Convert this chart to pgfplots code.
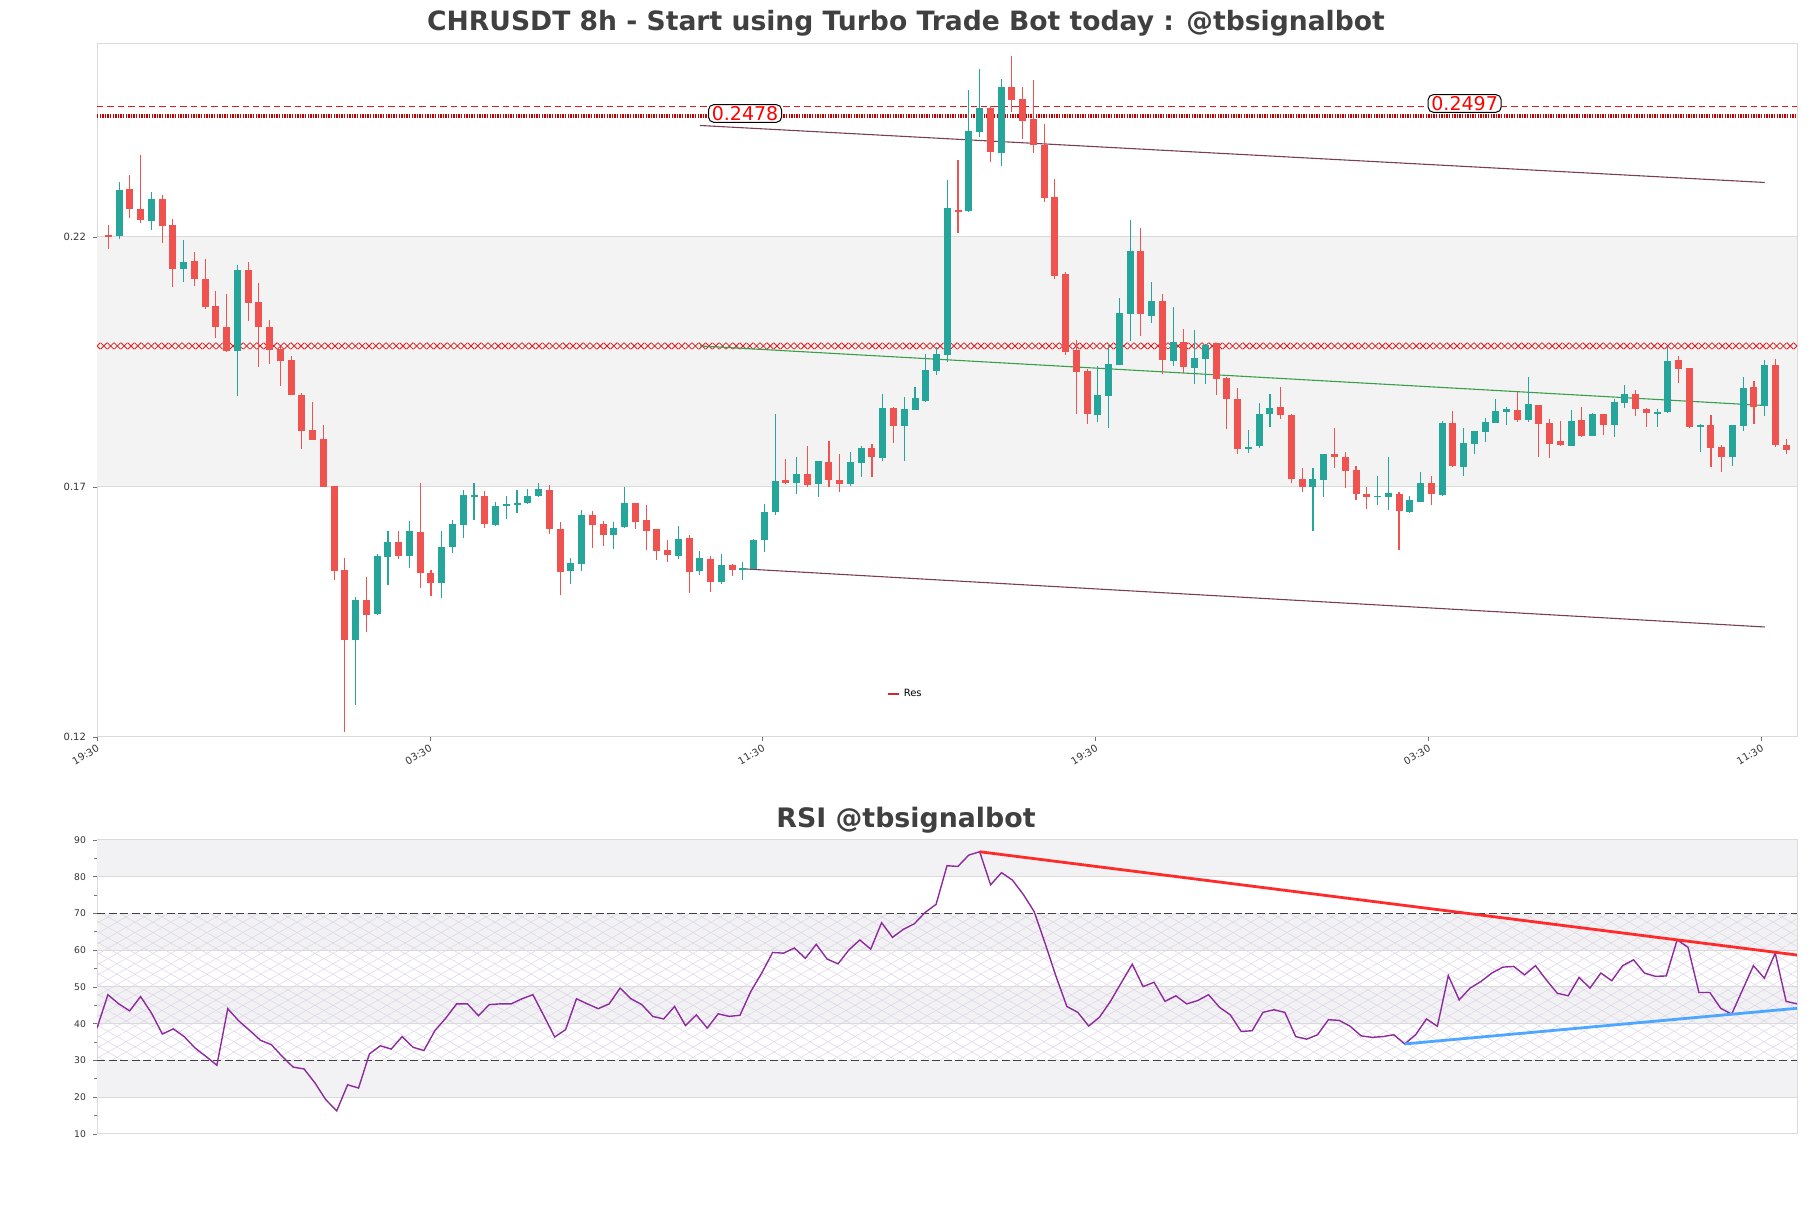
\documentclass[border=0pt]{standalone}
\usepackage{fontspec}
\setmainfont{DejaVu Sans}
\usepackage{pgfplots}
\pgfplotsset{compat=1.18}
\usepackage{pgfplotstable}
\usetikzlibrary{patterns.meta,decorations.markings}

\definecolor{upc}{HTML}{26A69A}
\definecolor{dnc}{HTML}{EF5350}
\definecolor{bandc}{HTML}{F3F3F3}
\definecolor{gridc}{HTML}{DADADA}
\definecolor{titlec}{HTML}{404040}
\definecolor{trendc}{HTML}{7B3F55}
\definecolor{greenl}{HTML}{3A9E4A}
\definecolor{rsic}{HTML}{8E2A9E}
\definecolor{resc}{HTML}{E31A1C}
\definecolor{resdot}{HTML}{C80000}
\definecolor{hatchc}{HTML}{DCD4E6}
\definecolor{rsiband}{HTML}{F2F2F4}
\definecolor{rsired}{HTML}{FF2A2A}
\definecolor{rsiblue}{HTML}{4DA6FF}

\newcommand\tickfont{\fontsize{5}{6}\selectfont}

\pgfplotstableread{
i o h l c
1 0.2201 0.2309 0.2196 0.2293
4 0.2232 0.2289 0.2214 0.2276
7 0.2135 0.2193 0.2109 0.2149
12 0.1972 0.2143 0.1882 0.2133
23 0.1394 0.1480 0.1264 0.1474
25 0.1445 0.1565 0.1444 0.1561
26 0.1559 0.1612 0.1503 0.1589
28 0.1562 0.1631 0.1537 0.1611
31 0.1507 0.1611 0.1478 0.1580
32 0.1580 0.1634 0.1568 0.1625
33 0.1624 0.1693 0.1597 0.1683
34 0.1681 0.1707 0.1634 0.1684
36 0.1624 0.1669 0.1621 0.1662
37 0.1662 0.1681 0.1635 0.1665
38 0.1665 0.1693 0.1647 0.1668
39 0.1667 0.1695 0.1666 0.1681
40 0.1681 0.1707 0.1679 0.1695
43 0.1532 0.1558 0.1506 0.1548
44 0.1546 0.1653 0.1532 0.1643
47 0.1603 0.1630 0.1576 0.1618
48 0.1620 0.1699 0.1619 0.1668
53 0.1561 0.1621 0.1556 0.1595
55 0.1532 0.1571 0.1523 0.1558
57 0.1510 0.1565 0.1506 0.1543
59 0.1533 0.1550 0.1514 0.1538
60 0.1536 0.1595 0.1536 0.1593
61 0.1594 0.1666 0.1570 0.1649
62 0.1650 0.1845 0.1644 0.1711
64 0.1708 0.1760 0.1685 0.1725
66 0.1705 0.1751 0.1679 0.1751
69 0.1705 0.1769 0.1701 0.1749
70 0.1748 0.1782 0.1720 0.1778
72 0.1758 0.1885 0.1752 0.1857
74 0.1822 0.1879 0.1752 0.1855
75 0.1853 0.1899 0.1853 0.1877
76 0.1872 0.1965 0.1870 0.1933
77 0.1932 0.1980 0.1923 0.1965
78 0.1964 0.2313 0.1950 0.2257
80 0.2252 0.2493 0.2250 0.2411
81 0.2410 0.2536 0.2400 0.2457
83 0.2367 0.2516 0.2342 0.2499
92 0.1844 0.1942 0.1830 0.1884
93 0.1882 0.1985 0.1818 0.1945
94 0.1944 0.2077 0.1944 0.2047
95 0.2045 0.2233 0.1992 0.2172
97 0.2042 0.2110 0.2027 0.2072
99 0.1952 0.2060 0.1942 0.1990
101 0.1938 0.2014 0.1906 0.1957
102 0.1955 0.1985 0.1906 0.1984
106 0.1776 0.1813 0.1768 0.1780
107 0.1782 0.1868 0.1777 0.1846
108 0.1846 0.1886 0.1820 0.1858
112 0.1700 0.1738 0.1612 0.1715
113 0.1714 0.1765 0.1680 0.1765
118 0.1680 0.1721 0.1663 0.1682
119 0.1680 0.1760 0.1654 0.1687
121 0.1650 0.1682 0.1647 0.1674
122 0.1670 0.1730 0.1670 0.1708
124 0.1684 0.1832 0.1681 0.1828
126 0.1740 0.1818 0.1722 0.1787
127 0.1785 0.1812 0.1765 0.1811
128 0.1810 0.1837 0.1790 0.1829
129 0.1828 0.1875 0.1828 0.1851
130 0.1850 0.1859 0.1823 0.1855
132 0.1833 0.1919 0.1830 0.1865
136 0.1782 0.1853 0.1782 0.1831
138 0.1801 0.1847 0.1801 0.1845
140 0.1823 0.1875 0.1800 0.1869
141 0.1868 0.1903 0.1858 0.1885
144 0.1847 0.1855 0.1820 0.1849
145 0.1850 0.1980 0.1847 0.1951
148 0.1819 0.1825 0.1770 0.1823
151 0.1760 0.1824 0.1742 0.1823
152 0.1822 0.1919 0.1812 0.1897
154 0.1861 0.1953 0.1841 0.1943
}\up

\pgfplotstableread{
i o h l c
0 0.2203 0.2224 0.2175 0.2200
2 0.2296 0.2323 0.2237 0.2256
3 0.2255 0.2363 0.2227 0.2234
5 0.2276 0.2283 0.2187 0.2222
6 0.2224 0.2236 0.2100 0.2135
8 0.2151 0.2169 0.2102 0.2116
9 0.2116 0.2155 0.2056 0.2059
10 0.2061 0.2091 0.1998 0.2020
11 0.2020 0.2086 0.1970 0.1972
13 0.2133 0.2149 0.2032 0.2068
14 0.2070 0.2107 0.1940 0.2019
15 0.2019 0.2034 0.1946 0.1974
16 0.1976 0.1980 0.1902 0.1952
17 0.1953 0.1962 0.1883 0.1884
18 0.1884 0.1888 0.1776 0.1811
19 0.1813 0.1869 0.1794 0.1794
20 0.1795 0.1823 0.1700 0.1700
21 0.1701 0.1701 0.1513 0.1532
22 0.1534 0.1557 0.1210 0.1394
24 0.1473 0.1519 0.1409 0.1444
27 0.1589 0.1611 0.1555 0.1562
29 0.1609 0.1708 0.1497 0.1528
30 0.1528 0.1534 0.1481 0.1507
35 0.1681 0.1691 0.1618 0.1625
41 0.1693 0.1703 0.1606 0.1615
42 0.1615 0.1630 0.1483 0.1530
45 0.1643 0.1652 0.1578 0.1624
46 0.1625 0.1632 0.1582 0.1603
49 0.1668 0.1668 0.1615 0.1630
50 0.1633 0.1663 0.1574 0.1612
51 0.1615 0.1615 0.1554 0.1572
52 0.1573 0.1593 0.1550 0.1563
54 0.1598 0.1603 0.1488 0.1530
56 0.1556 0.1561 0.1490 0.1510
58 0.1543 0.1545 0.1522 0.1534
63 0.1713 0.1755 0.1705 0.1708
65 0.1725 0.1782 0.1699 0.1703
67 0.1749 0.1791 0.1700 0.1713
68 0.1713 0.1765 0.1690 0.1705
71 0.1777 0.1785 0.1720 0.1760
73 0.1857 0.1859 0.1788 0.1822
79 0.2254 0.2353 0.2207 0.2250
82 0.2458 0.2462 0.2349 0.2369
84 0.2499 0.2561 0.2450 0.2474
85 0.2476 0.2499 0.2395 0.2432
86 0.2435 0.2513 0.2367 0.2383
87 0.2383 0.2425 0.2269 0.2277
88 0.2279 0.2315 0.2115 0.2122
89 0.2125 0.2130 0.1964 0.1970
90 0.1973 0.1993 0.1845 0.1930
91 0.1932 0.1935 0.1826 0.1845
96 0.2172 0.2217 0.2002 0.2045
98 0.2072 0.2085 0.1926 0.1953
100 0.1990 0.2015 0.1928 0.1940
103 0.1987 0.1988 0.1883 0.1916
104 0.1917 0.1920 0.1815 0.1876
105 0.1875 0.1898 0.1766 0.1775
109 0.1860 0.1900 0.1835 0.1843
110 0.1844 0.1846 0.1708 0.1716
111 0.1716 0.1737 0.1690 0.1700
114 0.1765 0.1817 0.1737 0.1760
115 0.1760 0.1770 0.1697 0.1732
116 0.1733 0.1742 0.1673 0.1685
117 0.1686 0.1700 0.1655 0.1680
120 0.1686 0.1690 0.1573 0.1652
123 0.1708 0.1721 0.1664 0.1686
125 0.1828 0.1852 0.1740 0.1741
131 0.1853 0.1890 0.1829 0.1833
133 0.1863 0.1863 0.1760 0.1825
134 0.1828 0.1835 0.1758 0.1785
135 0.1791 0.1831 0.1781 0.1783
137 0.1833 0.1860 0.1800 0.1801
139 0.1845 0.1845 0.1803 0.1823
142 0.1885 0.1893 0.1842 0.1855
143 0.1855 0.1858 0.1820 0.1847
146 0.1953 0.1961 0.1907 0.1935
147 0.1937 0.1937 0.1817 0.1819
149 0.1823 0.1843 0.1740 0.1778
150 0.1780 0.1783 0.1730 0.1760
153 0.1899 0.1912 0.1825 0.1860
155 0.1943 0.1955 0.1779 0.1783
156 0.1783 0.1795 0.1765 0.1773
}\dn

\pgfplotstableread{
k v
0 38.8
1 47.9
2 45.4
3 43.5
4 47.4
5 42.9
6 37.2
7 38.6
8 36.5
9 33.4
10 31.1
11 28.7
12 44.1
13 40.8
14 38.2
15 35.5
16 34.3
17 31.1
18 28.2
19 27.7
20 23.9
21 19.3
22 16.3
23 23.4
24 22.5
25 31.8
26 34.0
27 33.1
28 36.5
29 33.6
30 32.7
31 38.1
32 41.5
33 45.4
34 45.4
35 42.2
36 45.2
37 45.4
38 45.4
39 46.8
40 47.9
41 42.2
42 36.4
43 38.4
44 46.8
45 45.4
46 44.1
47 45.4
48 49.7
49 46.8
50 45.2
51 42.0
52 41.3
53 44.7
54 39.5
55 42.4
56 38.8
57 42.7
58 42.0
59 42.3
60 48.8
61 53.8
62 59.4
63 59.2
64 60.6
65 57.8
66 61.6
67 57.6
68 56.3
69 60.1
70 62.8
71 60.3
72 67.5
73 63.5
74 65.7
75 67.2
76 70.3
77 72.5
78 83.0
79 82.8
80 85.9
81 86.8
82 77.8
83 81.1
84 79.1
85 75.2
86 70.5
87 61.9
88 52.9
89 44.7
90 43.1
91 39.4
92 41.8
93 46.1
94 51.2
95 56.2
96 50.1
97 51.3
98 46.1
99 47.6
100 45.4
101 46.3
102 47.9
103 44.5
104 42.4
105 37.9
106 38.1
107 43.1
108 43.8
109 43.1
110 36.5
111 35.8
112 37.0
113 41.1
114 40.9
115 39.3
116 36.7
117 36.3
118 36.5
119 37.0
120 34.5
121 37.0
122 41.3
123 39.3
124 53.1
125 46.5
126 49.7
127 51.5
128 53.8
129 55.4
130 55.6
131 53.3
132 55.8
133 51.9
134 48.3
135 47.6
136 52.6
137 49.7
138 53.8
139 51.7
140 55.8
141 57.4
142 53.8
143 52.9
144 53.0
145 62.8
146 60.8
147 48.5
148 48.5
149 44.2
150 42.6
151 49.2
152 55.8
153 52.4
154 59.2
155 46.1
156 45.4
}\rsi

\begin{document}
\begin{tikzpicture}[x=1pt,y=1pt]
\useasboundingbox (0pt,0pt) rectangle (905.5pt,604pt);

\node[font=\bfseries\fontsize{13.3}{15}\selectfont, text=titlec] at (453pt,592.5pt) {CHRUSDT 8h - Start using Turbo Trade Bot today : @tbsignalbot};
\node[font=\bfseries\fontsize{13.4}{15}\selectfont, text=titlec] at (453pt,194pt) {RSI @tbsignalbot};

% ---------- main price axis ----------
\begin{axis}[
  at={(48.5pt,235.5pt)}, anchor=south west, scale only axis,
  width=850pt, height=346.5pt,
  xmin=-1.05, xmax=157, ymin=0.12, ymax=0.2586,
  axis line style={draw=gridc, line width=0.5pt},
  ytick={0.12,0.17,0.22}, yticklabels={0.12,0.17,0.22},
  xtick={-1.05,29.9,60.85,91.8,122.75,153.7},
  xticklabels={19:30,03:30,11:30,19:30,03:30,11:30},
  xtick pos=bottom, ytick pos=left, tick align=outside,
  major tick length=2pt, tick style={draw=black!55, line width=0.4pt},
  ymajorgrids, grid style={draw=gridc, line width=0.5pt},
  /pgf/number format/assume math mode=true,
  y tick label style={font=\tickfont, text=black!80},
  x tick label style={font=\tickfont, text=black!80, rotate=30, anchor=north east, inner sep=1pt},
  legend style={at={(0.476,0.062)}, anchor=center, draw=none, fill=none, font=\tickfont},
  legend image code/.code={\draw[#1] (0pt,0pt) -- (5.5pt,0pt);},
]
\addplot[forget plot, fill=bandc, draw=none] coordinates {(-1.05,0.17) (157,0.17) (157,0.22) (-1.05,0.22)} -- cycle;
\addplot[forget plot, draw=gridc, line width=0.5pt] coordinates {(-1.05,0.22) (157,0.22)};
\addplot[forget plot, draw=gridc, line width=0.5pt] coordinates {(-1.05,0.17) (157,0.17)};

% resistance lines
\addplot[forget plot, resc, line width=0.7pt, dash pattern=on 3.2pt off 2pt] coordinates {(-1.05,0.2461) (157,0.2461)};
\addplot[forget plot, resdot, line width=1.6pt, dash pattern=on 0.7pt off 0.6pt] coordinates {(-1.05,0.2442) (157,0.2442)};
\addplot[forget plot, draw=none, postaction={decorate},
  decoration={markings, mark=between positions 0 and 1 step 3.4pt with {\draw[resc, line width=0.4pt] (-1.6pt,-1.6pt)--(1.6pt,1.6pt) (-1.6pt,1.6pt)--(1.6pt,-1.6pt);}}]
  coordinates {(-1.05,0.1982) (157,0.1982)};

% trend lines
\addplot[forget plot, trendc, line width=0.55pt] coordinates {(55,0.2423) (154,0.2309)};
\addplot[forget plot, trendc, line width=0.55pt] coordinates {(59.3,0.1536) (154,0.1420)};
\addplot[forget plot, greenl, line width=0.55pt] coordinates {(55,0.1982) (154,0.1863)};

% wicks
\addplot[forget plot, draw=none, mark=none, error bars/.cd, y dir=both, y explicit, error mark=none,
  error bar style={draw=upc, line width=0.55pt}]
  table[x=i, y=o, y error plus expr=\thisrow{h}-\thisrow{o}, y error minus expr=\thisrow{o}-\thisrow{l}] {\up};
\addplot[forget plot, draw=none, mark=none, error bars/.cd, y dir=both, y explicit, error mark=none,
  error bar style={draw=dnc, line width=0.55pt}]
  table[x=i, y=o, y error plus expr=\thisrow{h}-\thisrow{o}, y error minus expr=\thisrow{o}-\thisrow{l}] {\dn};
% bodies
\addplot[forget plot, draw=none, mark=none, error bars/.cd, y dir=both, y explicit, error mark=none,
  error bar style={draw=upc, line width=3.5pt}]
  table[x=i, y expr=(\thisrow{o}+\thisrow{c})/2, y error expr=(\thisrow{c}-\thisrow{o})/2] {\up};
\addplot[forget plot, draw=none, mark=none, error bars/.cd, y dir=both, y explicit, error mark=none,
  error bar style={draw=dnc, line width=3.5pt}]
  table[x=i, y expr=(\thisrow{o}+\thisrow{c})/2, y error expr=(\thisrow{o}-\thisrow{c})/2] {\dn};

\node[draw=black, line width=0.5pt, rounded corners=2.5pt, fill=white, text=red, inner xsep=1.6pt, inner ysep=0.8pt,
  font=\fontsize{9.5}{10}\selectfont] at (axis cs:59.2,0.2447) {0.2478};
\node[draw=black, line width=0.5pt, rounded corners=2.5pt, fill=white, text=red, inner xsep=1.6pt, inner ysep=0.8pt,
  font=\fontsize{9.5}{10}\selectfont] at (axis cs:126.1,0.2467) {0.2497};

\addlegendimage{color={rgb,255:red,214;green,39;blue,40}, line width=1pt}
\addlegendentry{Res}
\end{axis}

% ---------- RSI axis ----------
\begin{axis}[
  at={(48.5pt,37pt)}, anchor=south west, scale only axis,
  width=850pt, height=147pt,
  xmin=0, xmax=156, ymin=10, ymax=90,
  axis line style={draw=gridc, line width=0.5pt},
  xtick=\empty, ytick={10,20,...,90}, minor y tick num=1,
  ytick pos=left, tick align=outside,
  major tick length=2pt, minor tick length=1.3pt, tick style={draw=black!55, line width=0.4pt},
  /pgf/number format/assume math mode=true,
  y tick label style={font=\fontsize{4.6}{5.5}\selectfont, text=black!80},
]
% bands
\addplot[forget plot, fill=rsiband, draw=none] coordinates {(0,80) (156,80) (156,90) (0,90)} -- cycle;
\addplot[forget plot, fill=rsiband, draw=none] coordinates {(0,60) (156,60) (156,70) (0,70)} -- cycle;
\addplot[forget plot, fill=rsiband, draw=none] coordinates {(0,40) (156,40) (156,50) (0,50)} -- cycle;
\addplot[forget plot, fill=rsiband, draw=none] coordinates {(0,20) (156,20) (156,30) (0,30)} -- cycle;
% hatch between 30 and 70
\addplot[forget plot, draw=none, pattern={Lines[angle=30,distance=4.5pt,line width=0.25pt]}, pattern color=hatchc] coordinates {(0,30) (156,30) (156,70) (0,70)} -- cycle;
\addplot[forget plot, draw=none, pattern={Lines[angle=-30,distance=4.5pt,line width=0.25pt]}, pattern color=hatchc] coordinates {(0,30) (156,30) (156,70) (0,70)} -- cycle;
% band edge lines
\addplot[forget plot, draw=gridc, line width=0.5pt] coordinates {(0,80) (156,80)};
\addplot[forget plot, draw=gridc, line width=0.5pt] coordinates {(0,60) (156,60)};
\addplot[forget plot, draw=gridc, line width=0.5pt] coordinates {(0,50) (156,50)};
\addplot[forget plot, draw=gridc, line width=0.5pt] coordinates {(0,40) (156,40)};
\addplot[forget plot, draw=gridc, line width=0.5pt] coordinates {(0,20) (156,20)};
% 30 / 70 dashed
\addplot[forget plot, black!75, line width=0.5pt, dash pattern=on 4pt off 1.8pt] coordinates {(0,70) (156,70)};
\addplot[forget plot, black!75, line width=0.5pt, dash pattern=on 4pt off 1.8pt] coordinates {(0,30) (156,30)};
% RSI
\addplot[forget plot, rsic, line width=0.7pt] table[x=k, y=v] {\rsi};
% trend lines
\addplot[forget plot, rsired, line width=1.4pt] coordinates {(81,86.8) (156,58.7)};
\addplot[forget plot, rsiblue, line width=1.4pt] coordinates {(120,34.5) (156,44.2)};
\end{axis}
\end{tikzpicture}
\end{document}
